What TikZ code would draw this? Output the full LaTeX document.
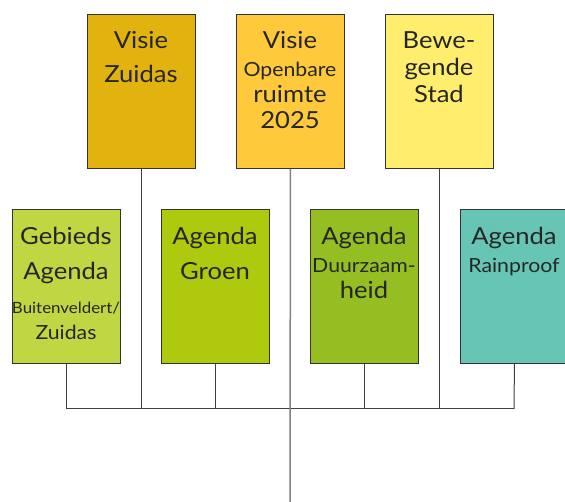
\documentclass[tikz,border=0pt]{standalone}
\usepackage{fontspec}
\setmainfont{Lato}[FakeStretch=1.09]
\definecolor{cVZ}{HTML}{E2B30F}
\definecolor{cVO}{HTML}{FECA3C}
\definecolor{cBS}{HTML}{FFEE6E}
\definecolor{cGA}{HTML}{C0D642}
\definecolor{cAG}{HTML}{AFC90F}
\definecolor{cAD}{HTML}{94BE22}
\definecolor{cAR}{HTML}{66C5B4}
\definecolor{txt}{HTML}{262626}
\begin{document}
\begin{tikzpicture}[x=1pt,y=-1pt,
  box/.style={draw=black!80, line width=0.9pt, minimum width=108pt, minimum height=154pt,
    inner sep=0pt, anchor=north west},
  conn/.style={draw=black!75, line width=1pt},
  spine/.style={draw=black!50, line width=1.5pt},
  big/.style={anchor=base, inner sep=0pt, text=txt, font=\fontsize{23.5}{26}\selectfont},
  mid/.style={anchor=base, inner sep=0pt, text=txt, font=\fontsize{19.5}{22}\selectfont},
  sml/.style={anchor=base, inner sep=0pt, text=txt, font=\fontsize{15.5}{18}\selectfont}]
\useasboundingbox (0,0) rectangle (565,502);
\clip (0,0) rectangle (565,502);
% top boxes
\node[box, fill=cVZ] (vz) at (87,14) {};
\node[box, fill=cVO] (vo) at (236,14) {};
\node[box, fill=cBS] (bs) at (385,14) {};
% bottom boxes
\node[box, fill=cGA] (ga) at (12,209) {};
\node[box, fill=cAG] (ag) at (161,209) {};
\node[box, fill=cAD] (ad) at (310,209) {};
\node[box, fill=cAR] (ar) at (460,209) {};
% texts
\node[big] (vz1) at (141,48.5) {Visie};
\node[big] (vz2) at (141,82.5) {Zuidas};
\node[big] (vo1) at (290,48.5) {Visie};
\node[mid] (vo2) at (290,76.5) {Openbare};
\node[big] (vo3) at (290,103) {ruimte};
\node[big] (vo4) at (290,129) {2025};
\node[big] (bs1) at (439,48.5) {Bewe-};
\node[big] (bs2) at (439,76) {gende};
\node[big] (bs3) at (439,103) {Stad};
\node[big] (ga1) at (66,244.5) {Gebieds};
\node[big] (ga2) at (66,279.5) {Agenda};
\node[sml] (ga3) at (66,314) {Buitenveldert/};
\node[mid] (ga4) at (66,340) {Zuidas};
\node[big] (ag1) at (215,244.5) {Agenda};
\node[big] (ag2) at (215,279.5) {Groen};
\node[big] (ad1) at (364,244.5) {Agenda};
\node[mid] (ad2) at (364,273) {Duurzaam-};
\node[big] (ad3) at (364,298.5) {heid};
\node[big] (ar1) at (514,244.5) {Agenda};
\node[mid] (ar2) at (514,273) {Rainproof};
% connectors
\coordinate (bl) at (66,409);
\coordinate (br) at (514,409);
\coordinate (bottom) at (290,502);
\draw[conn] (ga.south) |- (br);
\draw[conn] (ar.south) -- (br);
\draw[conn] (ag.south) -- (ag.south |- bl);
\draw[conn] (ad.south) -- (ad.south |- bl);
\draw[conn] (vz.south) -- (vz.south |- bl);
\draw[conn] (bs.south) -- (bs.south |- bl);
\draw[spine] (vo.south) -- (bottom);
\end{tikzpicture}
\end{document}
